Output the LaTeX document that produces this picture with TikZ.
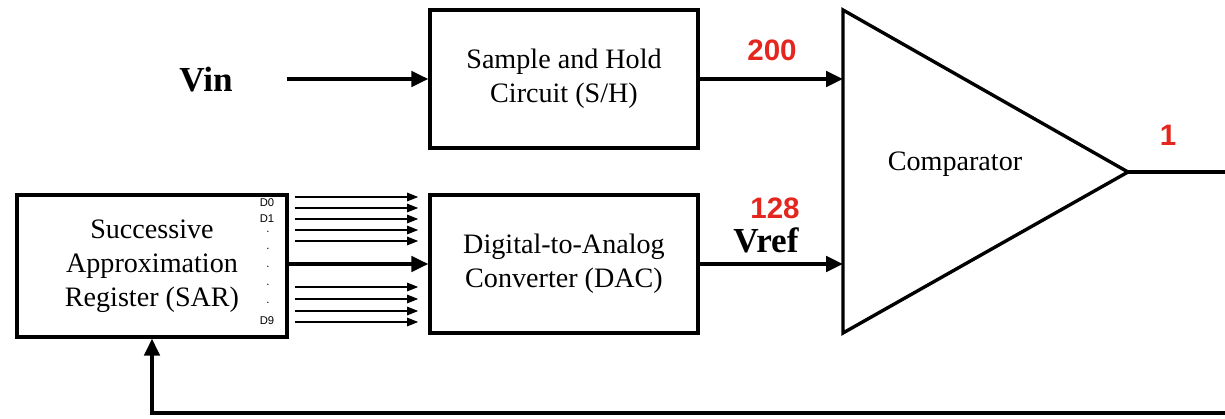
\documentclass[tikz,border=0pt]{standalone}
\usepackage{fontspec}
\setmainfont{Liberation Serif}
\setsansfont{Liberation Sans}
\usetikzlibrary{arrows.meta, calc}

\begin{document}
\begin{tikzpicture}[x=0.025cm, y=-0.025cm,
    block/.style={draw, line width=2.4pt, minimum width=6.7cm, minimum height=3.45cm,
        align=center, font=\fontsize{20}{24}\selectfont},
    sig/.style={line width=2.4pt, -{Triangle[length=12pt, width=11pt]}},
    bus/.style={line width=1.3pt, -{Triangle[length=8pt, width=6pt]}},
    val/.style={text=valred, font=\sffamily\bfseries\fontsize{21}{24}\selectfont},
    signame/.style={font=\bfseries\fontsize{25}{28}\selectfont}]

    % Define colors
    \definecolor{valred}{RGB}{228, 38, 30}

    \clip (0,0) rectangle (1225,419);

    % Blocks
    \node[block] (sh) at (564,79) {Sample and Hold\\Circuit (S/H)};
    \node[block] (dac) at (564,264) {Digital-to-Analog\\Converter (DAC)};
    \node[block, minimum width=6.75cm, minimum height=3.55cm] (sar) at (152,266)
        {Successive\\Approximation\\Register (SAR)};

    % Comparator
    \coordinate (cmpT) at (843,10);
    \coordinate (cmpB) at (843,333);
    \coordinate (cmpO) at (1128,172);
    \draw[line width=2.4pt, line join=miter] (cmpT) -- (cmpO) -- (cmpB) -- cycle;
    \node[font=\fontsize{20}{24}\selectfont] (cmp) at (955,164) {Comparator};

    % Input
    \node[signame] (vin) at (206,80) {Vin};
    \coordinate (vinin) at (287,79);
    \draw[sig] (vinin) -- (sh.west);

    % Bit labels
    \node[font=\sffamily\fontsize{8}{9}\selectfont] (d0) at (267,203) {D0};
    \node[font=\sffamily\fontsize{8}{9}\selectfont] (d1) at (267,219) {D1};
    \foreach \y in {235,252,270,288,306}
    \node[font=\sffamily\fontsize{8}{9}\selectfont] at (268,\y-3) {.};
    \node[font=\sffamily\fontsize{8}{9}\selectfont] (d9) at (267,321) {D9};

    % Bit lines
    \foreach \d in {-67,-56,-45,-34,-23,23,35,47,58}
    \draw[bus] ($(sar.east |- dac.west)+(6,\d)$) -- ($(dac.west)+(-10,\d)$);
    \draw[sig] (sar.east |- dac.west) -- (dac.west);

    % To comparator
    \draw[sig] (sh.east) -- (sh.east -| cmpT);
    \draw[sig] (dac.east) -- (dac.east -| cmpT);
    \node[val] (vsh) at (772,50) {200};
    \node[val] (vdac) at (775,208) {128};
    \node[signame] (vref) at (766,240) {Vref};
    \node[val] (vout) at (1168,135) {1};

    % Feedback
    \draw[sig] (cmpO) -- (1232,172) -- (1232,413) -| (sar.south);

\end{tikzpicture}
\end{document}
